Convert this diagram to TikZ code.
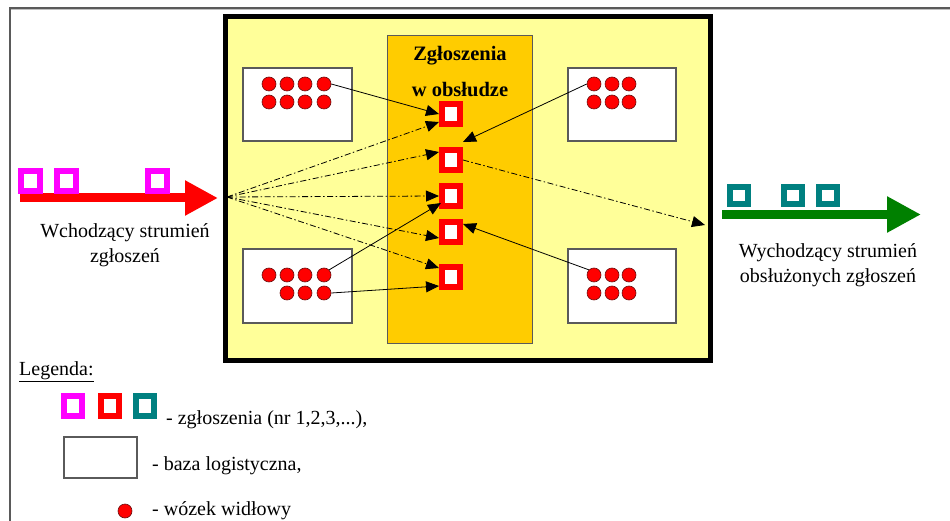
\documentclass[tikz,border=0pt]{standalone}
\usepackage{fontspec}
\setmainfont{Liberation Serif}
\usetikzlibrary{arrows.meta}
\definecolor{ylw}{HTML}{FFFF99}
\definecolor{org}{HTML}{FFCC00}
\definecolor{mag}{HTML}{FF00FF}
\definecolor{rd}{HTML}{FF0000}
\definecolor{tealc}{HTML}{008080}
\definecolor{grn}{HTML}{008000}
\definecolor{frm}{HTML}{5A5A5A}
\definecolor{dotedge}{HTML}{6A1010}
\begin{document}
\begin{tikzpicture}[x=1pt,y=-1pt,
  txt/.style={font=\fontsize{20}{25}\selectfont, inner sep=0pt, align=center},
  ttl/.style={font=\fontsize{20.5}{25}\selectfont\bfseries, inner sep=0pt},
  req/.style={draw=#1, line width=6pt, fill=white, minimum width=18pt, minimum height=20pt, inner sep=0pt},
  reqs/.style={draw=#1, line width=6pt, fill=white, minimum width=18pt, minimum height=17pt, inner sep=0pt},
  dot/.style={circle, fill=rd, draw=dotedge, line width=0.6pt, minimum size=14pt, inner sep=0pt},
  base/.style={draw=frm, fill=white, line width=1.2pt, minimum width=109pt, minimum height=73pt, inner sep=0pt},
  arr/.style={-{Triangle[length=13pt,width=11pt]}, line width=0.8pt},
  dashdot/.style={dash pattern=on 6pt off 2.5pt on 1.5pt off 2.5pt}
]
\useasboundingbox (0,0) rectangle (950,521);
\fill[white] (0,0) rectangle (950,521);
% outer frame
\draw[frm, line width=1.5pt] (10,521) -- (10,8) -- (950,8);
\draw[black!25, line width=1pt] (11,10) -- (950,10);

% system box
\node[draw=black, line width=5pt, fill=ylw, minimum width=485pt, minimum height=344pt, inner sep=0pt] (sys) at (468,188.5) {};
\node[draw=frm, line width=0.8pt, fill=org, minimum width=145pt, minimum height=308pt, inner sep=0pt] (srv) at (459.5,189) {};
\node[ttl] (t1) at (460,56) {Zgłoszenia};
\node[ttl] (t2) at (460,90) {w obsłudze};

% bases
\node[base] (btl) at (297.5,104.5) {};
\node[base, minimum height=74pt] (bbl) at (297.5,286) {};
\node[base, minimum width=108pt] (btr) at (622,104.5) {};
\node[base, minimum width=108pt, minimum height=74pt] (bbr) at (622,286) {};

% forklifts
\foreach \i/\x in {1/269,2/287,3/305,4/324} {
  \node[dot] (tla\i) at (\x,84) {};
  \node[dot] (tlb\i) at (\x,102) {};
  \node[dot] (bla\i) at (\x,275) {};
}
\foreach \i/\x in {2/287,3/305,4/324} {
  \node[dot] (blb\i) at (\x,293) {};
}
\foreach \i/\x in {1/594,2/612,3/629} {
  \node[dot] (tra\i) at (\x,84) {};
  \node[dot] (trb\i) at (\x,102) {};
  \node[dot] (bra\i) at (\x,275) {};
  \node[dot] (brb\i) at (\x,293) {};
}

% requests in service
\node[req=rd] (sq1) at (451,114) {};
\node[req=rd] (sq2) at (451,160) {};
\node[req=rd] (sq3) at (451,196) {};
\node[req=rd] (sq4) at (451,232) {};
\node[req=rd] (sq5) at (451,277) {};

% incoming stream
\draw[rd, line width=9pt, -{Triangle[length=33pt,width=33pt]}] (20,198) -- (218,198);
\node[req=mag, minimum width=19pt] (in1) at (30,181) {};
\node[req=mag, minimum width=19pt] (in2) at (66,181) {};
\node[req=mag, minimum width=19pt] (in3) at (157,181) {};
\node[txt] (intxt) at (125,245) {Wchodzący strumień\\zgłoszeń};

% outgoing stream
\draw[grn, line width=9pt, -{Triangle[length=34pt,width=34pt]}] (722,214.5) -- (921,214.5);
\node[reqs=tealc] (out1) at (739,196) {};
\node[reqs=tealc] (out2) at (793,196) {};
\node[reqs=tealc] (out3) at (828,196) {};
\node[txt] (outtxt) at (828,265) {Wychodzący strumień\\obsłużonych zgłoszeń};

% connectors
\coordinate (src) at (227,197);
\coordinate (dst) at (705,225);
\draw[arr, dashdot] (src) -- ([yshift=5pt]sq1.south west);
\draw[arr, dashdot] (src) -- ([yshift=-5pt]sq2.north west);
\draw[arr, dashdot] (src) -- (sq3.west);
\draw[arr, dashdot] (src) -- ([yshift=7pt]sq4.south west);
\draw[arr, dashdot] (src) -- ([yshift=-4pt]sq5.north west);
\draw[arr, dashdot] (sq2.east) -- (dst);

\draw[arr] (tla4.east) -- (sq1.west);
\draw[arr] (tra1.west) -- ([yshift=5pt]sq2.north east);
\draw[arr] (bla4.north east) -- ([xshift=2pt,yshift=6pt]sq3.south west);
\draw[arr] (blb4.east) -- ([yshift=4pt]sq5.south west);
\draw[arr] (bra1.north west) -- ([yshift=-5pt]sq4.north east);

% legend
\node[txt, anchor=west] (leg) at (19,372) {\underline{Legenda:}};
\node[req=mag] (lg1) at (72.5,406) {};
\node[req=rd] (lg2) at (110,406) {};
\node[req=tealc] (lg3) at (145,406) {};
\node[txt, anchor=base west] (lgt1) at (166,424) {- zgłoszenia (nr 1,2,3,...),};
\node[draw=frm, fill=white, line width=1.2pt, minimum width=73pt, minimum height=41pt, inner sep=0pt] (lgb) at (100.5,457.5) {};
\node[txt, anchor=base west] (lgt2) at (152,470) {- baza logistyczna,};
\node[dot] (lgd) at (125,511) {};
\node[txt, anchor=base west] (lgt3) at (152,515.5) {- wózek widłowy};
\end{tikzpicture}
\end{document}
